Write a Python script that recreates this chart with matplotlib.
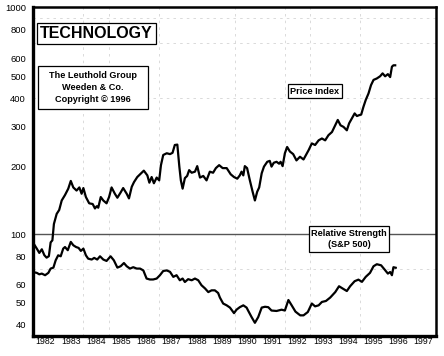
import matplotlib
matplotlib.use("Agg")
import matplotlib.pyplot as plt
from matplotlib.patches import Rectangle
from matplotlib.ticker import FixedLocator, NullLocator

plt.rcParams['font.family'] = ['Liberation Sans', 'DejaVu Sans']

# ---- data ----
price_years = [1982.01, 1982.15, 1982.25, 1982.35, 1982.45, 1982.54, 1982.63, 1982.70, 1982.77, 1982.83,
               1982.94, 1983.04, 1983.14, 1983.27, 1983.40, 1983.50, 1983.60, 1983.73, 1983.84, 1983.93,
               1984.00, 1984.10, 1984.23, 1984.37, 1984.46, 1984.53, 1984.59, 1984.69, 1984.79, 1984.92,
               1985.02, 1985.12, 1985.25, 1985.35, 1985.48, 1985.58, 1985.72, 1985.81, 1985.92, 1986.01,
               1986.14, 1986.25, 1986.40, 1986.54, 1986.62, 1986.71, 1986.80, 1986.91, 1987.01, 1987.08,
               1987.17, 1987.31, 1987.44, 1987.54, 1987.63, 1987.73, 1987.81, 1987.87, 1987.94, 1988.03,
               1988.12, 1988.20, 1988.30, 1988.43, 1988.52, 1988.63, 1988.76, 1988.89, 1989.02, 1989.15,
               1989.26, 1989.39, 1989.53, 1989.69, 1989.85, 1989.98, 1990.11, 1990.21, 1990.28, 1990.35,
               1990.41, 1990.50, 1990.61, 1990.72, 1990.81, 1990.90, 1990.98, 1991.08, 1991.17, 1991.30,
               1991.40, 1991.47, 1991.56, 1991.67, 1991.77, 1991.83, 1991.91, 1992.00, 1992.09, 1992.20,
               1992.33, 1992.46, 1992.60, 1992.74, 1992.94, 1993.07, 1993.20, 1993.34, 1993.47, 1993.60,
               1993.73, 1993.87, 1994.00, 1994.10, 1994.21, 1994.33, 1994.46, 1994.55, 1994.66, 1994.77,
               1994.86, 1994.95, 1995.03, 1995.12, 1995.21, 1995.32, 1995.42, 1995.52, 1995.65, 1995.78,
               1995.88, 1995.98, 1996.09, 1996.18, 1996.25, 1996.31, 1996.38]
price_values = [91.5, 86.4, 82.7, 85.8, 80.8, 78.8, 80, 92, 94, 111,
                123, 128, 141, 149, 159, 172, 161, 156, 161, 151,
                160, 146, 137, 136, 130, 133, 131, 146, 141, 137,
                146, 161, 151, 145, 153, 160, 151, 144, 162, 170,
                179, 184, 191, 182, 169, 179, 168, 178, 173, 202,
                224, 228, 226, 229, 248, 249, 199, 173, 159, 177,
                181, 192, 187, 189, 200, 178, 181, 173, 189, 187,
                196, 202, 196, 196, 184, 179, 176, 182, 189, 182,
                200, 196, 173, 154, 141, 154, 161, 186, 199, 209,
                211, 199, 207, 209, 205, 209, 200, 228, 243, 232,
                226, 212, 220, 214, 235, 252, 248, 260, 265, 260,
                274, 283, 303, 320, 303, 298, 288, 309, 325, 342,
                333, 336, 338, 366, 392, 419, 456, 481, 488, 499,
                514, 499, 510, 495, 550, 558, 558]

rs_years = [1982.01, 1982.15, 1982.25, 1982.35, 1982.48, 1982.61, 1982.70, 1982.81, 1982.90, 1983.00,
            1983.10, 1983.20, 1983.27, 1983.38, 1983.50, 1983.60, 1983.71, 1983.81, 1983.90, 1984.00,
            1984.10, 1984.19, 1984.33, 1984.43, 1984.55, 1984.66, 1984.79, 1984.92, 1985.08, 1985.21,
            1985.35, 1985.48, 1985.61, 1985.72, 1985.85, 1985.98, 1986.12, 1986.25, 1986.38, 1986.51,
            1986.64, 1986.77, 1986.91, 1987.04, 1987.17, 1987.31, 1987.44, 1987.57, 1987.70, 1987.83,
            1987.94, 1988.03, 1988.16, 1988.30, 1988.43, 1988.56, 1988.69, 1988.83, 1988.96, 1989.09,
            1989.22, 1989.35, 1989.42, 1989.55, 1989.69, 1989.82, 1989.98, 1990.08, 1990.21, 1990.35,
            1990.48, 1990.54, 1990.68, 1990.81, 1990.94, 1991.08, 1991.21, 1991.34, 1991.47, 1991.67,
            1991.87, 1992.00, 1992.14, 1992.27, 1992.42, 1992.53, 1992.61, 1992.74, 1992.91, 1993.07,
            1993.20, 1993.34, 1993.47, 1993.63, 1993.80, 1994.00, 1994.15, 1994.29, 1994.46, 1994.59,
            1994.77, 1994.92, 1995.06, 1995.21, 1995.38, 1995.52, 1995.65, 1995.82, 1995.96, 1996.09,
            1996.18, 1996.25, 1996.31, 1996.40]
rs_values = [68, 67.5, 66.5, 67, 65.9, 67.5, 70.5, 71.2, 76.7, 80.7,
             79.9, 86.4, 87.8, 85, 92.5, 89.4, 87.8, 87, 84.4, 86.4,
             80.7, 78, 77.3, 78.6, 77.3, 79.9, 77.3, 76.2, 79.9, 76.7,
             71.2, 72.2, 74.6, 72.2, 70.5, 71.5, 70.5, 70.5, 69.2, 63.7,
             63.1, 63.1, 63.7, 65.9, 68.8, 69.2, 68.2, 64.8, 65.9, 62.6,
             63.7, 61.5, 63.3, 62.6, 63.7, 62.6, 59.5, 57.6, 55.5, 56.5,
             56.5, 55, 52.5, 49.4, 48.5, 47.4, 44.8, 46.4, 47.6, 48.5,
             47.4, 46, 43, 40.6, 43, 47.4, 47.8, 47.6, 46, 45.8,
             46.4, 46, 51.2, 48.5, 45.5, 44.5, 43.8, 43.8, 45.3, 49.4,
             48, 48.5, 50.2, 50.7, 52.5, 55.5, 58.9, 57.6, 56.1, 58.9,
             62, 63, 61.6, 64.8, 67.5, 72.2, 73.7, 72.9, 69.8, 67,
             68.1, 65.9, 71.5, 71.1]

year_labels = ['1982', '1983', '1984', '1985', '1986', '1987', '1988', '1989',
               '1990', '1991', '1992', '1993', '1994', '1995', '1996', '1997']
y_ticks = [40, 50, 60, 80, 100, 200, 300, 400, 500, 600, 800, 1000]
grid_years = [1984, 1985, 1987, 1990, 1992, 1993, 1995]
grid_levels = [70, 400, 700, 900]

W, H = 444, 356
fig = plt.figure(figsize=(W / 100, H / 100), dpi=100)
fig.patch.set_facecolor('white')
ax = fig.add_axes([33 / W, 1 - 336 / H, (436 - 33) / W, (336 - 7) / H])
ax.set_yscale('log')
ax.set_xlim(1982.0, 1998.0)
ax.set_ylim(35.5, 1010)

# faint grid
for gy in grid_years:
    ax.axvline(gy, color='#d4d4d4', lw=0.6, ls=(0, (3, 5)), zorder=1)
for gl in grid_levels:
    ax.axhline(gl, color='#d4d4d4', lw=0.6, ls=(0, (3, 5)), zorder=1)

ax.axhline(100, color='#555555', lw=1.0, zorder=2)

ax.plot(price_years, price_values, color='black', lw=1.6, zorder=3,
        solid_joinstyle='round')
ax.plot(rs_years, rs_values, color='black', lw=1.6, zorder=3,
        solid_joinstyle='round')

ax.yaxis.set_major_locator(FixedLocator(y_ticks))
ax.yaxis.set_minor_locator(NullLocator())
ax.set_yticklabels([str(v) for v in y_ticks])
ax.set_xticks([int(y) + 0.5 for y in year_labels])
ax.set_xticklabels(year_labels)
ax.xaxis.set_minor_locator(NullLocator())
ax.tick_params(axis='y', length=0, pad=5, labelsize=6.8)
ax.tick_params(axis='x', length=0, pad=0.8, labelsize=6.3)

ax.spines['left'].set_linewidth(2.4)
ax.spines['bottom'].set_linewidth(2.4)
ax.spines['top'].set_linewidth(1.8)
ax.spines['right'].set_linewidth(1.8)


def fbox(x0, y0, x1, y1):
    r = Rectangle((x0 / W, 1 - y1 / H), (x1 - x0) / W, (y1 - y0) / H,
                  transform=fig.transFigure, facecolor='white',
                  edgecolor='black', lw=0.9, zorder=5)
    fig.add_artist(r)


def ftext(x, y, s, size, **kw):
    fig.text(x / W, 1 - y / H, s, ha='center', va='center', fontsize=size,
             fontweight='bold', zorder=6, **kw)


fbox(37, 23, 156, 44)
ftext(96.5, 34, 'TECHNOLOGY', 11.5)

fbox(38, 66, 148, 109)
ftext(93, 75.5, 'The Leuthold Group', 6.6)
ftext(93, 87.5, 'Weeden & Co.', 6.6)
ftext(93, 99.5, 'Copyright \u00a9 1996', 6.6)

fbox(288, 84, 342, 98)
ftext(315, 91.3, 'Price Index', 6.6)

fbox(309, 226, 389, 252)
ftext(349, 233, 'Relative Strength', 6.6)
ftext(349, 244.5, '(S&P 500)', 6.6)

fig.savefig('out.png', dpi=100, facecolor='white')
